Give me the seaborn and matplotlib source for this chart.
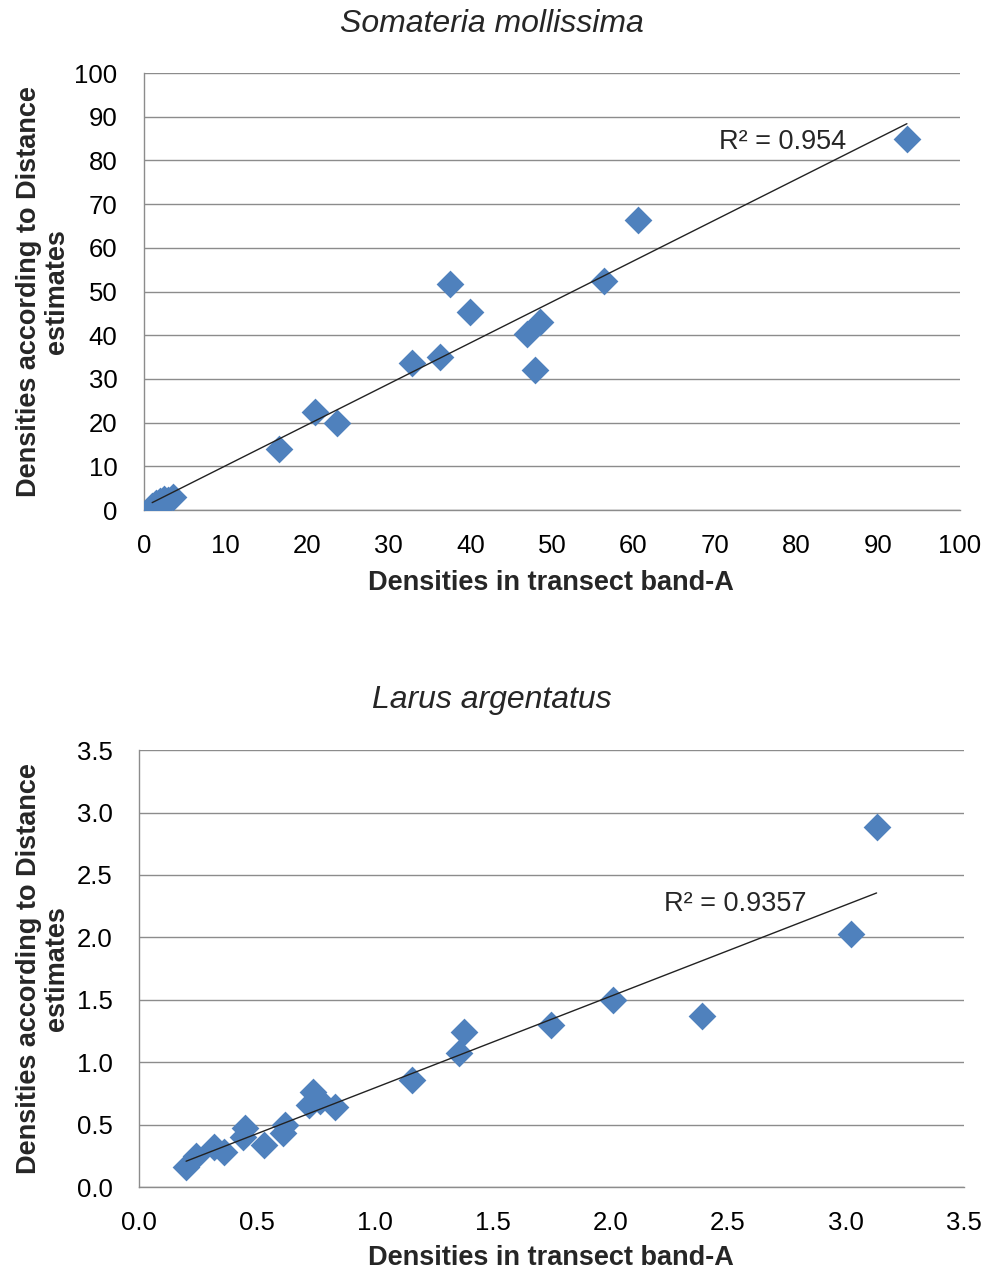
import numpy as np
import pandas as pd
import matplotlib
matplotlib.use("Agg")
import matplotlib.pyplot as plt
import seaborn as sns

# --- Data ---
# Somateria mollissima
eider_band_a = [1.0, 1.5, 2.0, 2.5, 3.0, 3.5, 16.5, 21.0, 23.6, 32.8, 36.3, 37.5,
                40.0, 46.9, 48.5, 47.9, 56.4, 60.5, 93.5]
eider_distance = [1.0, 1.5, 2.0, 2.5, 2.3, 3.0, 14.0, 22.4, 19.9, 33.6, 35.0, 51.7,
                  45.3, 40.3, 43.0, 32.0, 52.4, 66.4, 84.9]
eider_r2 = "R² = 0.954"

# Larus argentatus
gull_band_a = [0.20, 0.24, 0.32, 0.36, 0.45, 0.44, 0.53, 0.62, 0.61, 0.74, 0.72,
               0.77, 0.83, 1.16, 1.36, 1.38, 1.75, 2.01, 2.39, 3.02, 3.13]
gull_distance = [0.16, 0.25, 0.32, 0.28, 0.47, 0.40, 0.34, 0.50, 0.43, 0.76, 0.66,
                 0.69, 0.64, 0.86, 1.07, 1.24, 1.30, 1.50, 1.37, 2.03, 2.88]
gull_r2 = "R² = 0.9357"

BLUE = "#4F81BD"
GRID = "#8c8c8c"

sns.set_theme(style="white")
plt.rcParams["font.family"] = ["Liberation Sans", "DejaVu Sans"]

fig = plt.figure(figsize=(9.89, 12.75), dpi=100)
ax1 = fig.add_axes([0.1456, 0.600, 0.825, 0.3427])
ax2 = fig.add_axes([0.1405, 0.069, 0.834, 0.3427])


def draw_panel(ax, xs, ys, title, title_y, r2_text, r2_pos, lim, step, fmt,
               xlab_y, ylab_x):
    df = pd.DataFrame({"x": xs, "y": ys})
    sns.scatterplot(data=df, x="x", y="y", marker="D", s=200, color=BLUE,
                    edgecolor=BLUE, linewidth=0, ax=ax, zorder=3)
    sns.regplot(data=df, x="x", y="y", scatter=False, ci=None, truncate=True,
                line_kws={"color": "#222222", "linewidth": 1.0, "zorder": 4}, ax=ax)
    ticks = np.arange(0, lim + step / 2, step)
    ax.set_xlim(0, lim)
    ax.set_ylim(0, lim)
    ax.set_xticks(ticks)
    ax.set_yticks(ticks)
    ax.set_xticklabels([fmt.format(t) for t in ticks], fontsize=18.5)
    ax.set_yticklabels([fmt.format(t) for t in ticks], fontsize=18.5)
    ax.yaxis.grid(True, color=GRID, linewidth=1.0)
    ax.xaxis.grid(False)
    ax.set_axisbelow(True)
    for side in ["top", "right"]:
        ax.spines[side].set_visible(False)
    for side in ["left", "bottom"]:
        ax.spines[side].set_color(GRID)
        ax.spines[side].set_linewidth(1.0)
    ax.tick_params(axis="both", which="major", direction="out", length=5,
                   width=1, color=GRID, colors="#000000")
    ax.tick_params(axis="both", color=GRID)
    ax.tick_params(axis="x", pad=12)
    ax.tick_params(axis="y", pad=14)
    ax.set_xlabel("Densities in transect band-A", fontsize=19.5, fontweight="bold")
    ax.xaxis.set_label_coords(0.499, xlab_y)
    ax.set_ylabel("Densities according to Distance\nestimates", fontsize=19.5,
                  fontweight="bold", linespacing=1.1)
    ax.yaxis.set_label_coords(ylab_x, 0.499)
    fig.text(0.497, title_y, title, fontsize=23, fontstyle="italic",
             ha="center", va="center")
    ax.text(r2_pos[0], r2_pos[1], r2_text, fontsize=19.5, ha="left", va="center")


draw_panel(ax1, eider_band_a, eider_distance, "Somateria mollissima", 1 - 24 / 1275,
           eider_r2, (70.5, 84.3), 100, 10, "{:.0f}", -0.137, -0.091)
draw_panel(ax2, gull_band_a, gull_distance, "Larus argentatus", 1 - 700 / 1275,
           gull_r2, (2.23, 2.27), 3.5, 0.5, "{:.1f}", -0.133, -0.084)

fig.savefig("out.png", dpi=100)
